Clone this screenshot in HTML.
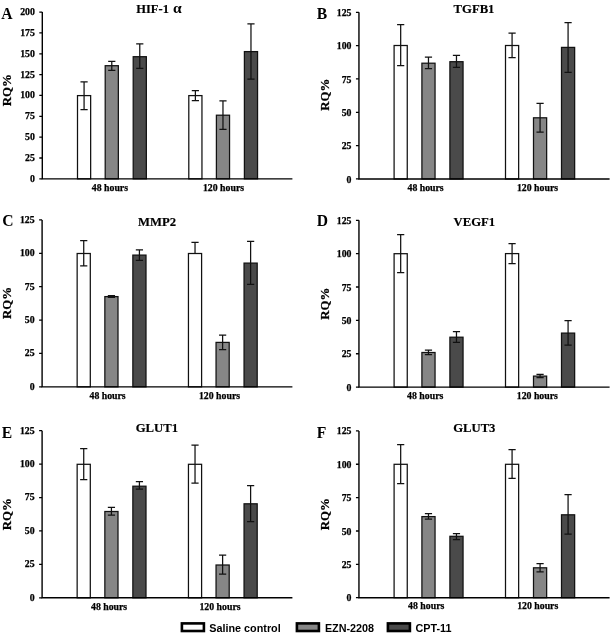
<!DOCTYPE html>
<html><head><meta charset="utf-8"><style>
html,body{margin:0;padding:0;background:#fff;}
body{width:611px;height:635px;overflow:hidden;}
svg{display:block;will-change:transform;}
.t{font-family:"Liberation Serif", serif;font-weight:bold;fill:#000;}
.k{stroke:#000;stroke-width:0.25px;}
.k2{stroke:#000;stroke-width:0.18px;}
.s{font-family:"Liberation Sans", sans-serif;font-weight:bold;fill:#000;}
</style></head><body>
<svg width="611" height="635" viewBox="0 0 611 635">
<rect x="0" y="0" width="611" height="635" fill="#fff"/>
<rect x="77.5" y="95.6" width="13.15" height="83.25" fill="#ffffff" stroke="#111" stroke-width="1.25"/>
<rect x="105.2" y="65.7" width="13.15" height="113.15" fill="#868686" stroke="#111" stroke-width="1.25"/>
<rect x="133.2" y="56.7" width="13.15" height="122.15" fill="#4a4a4a" stroke="#111" stroke-width="1.25"/>
<rect x="188.8" y="95.6" width="13.15" height="83.25" fill="#ffffff" stroke="#111" stroke-width="1.25"/>
<rect x="216.4" y="115.2" width="13.15" height="63.65" fill="#868686" stroke="#111" stroke-width="1.25"/>
<rect x="244.4" y="51.6" width="13.15" height="127.25" fill="#4a4a4a" stroke="#111" stroke-width="1.25"/>
<path d="M84.08 81.8V109.6 M80.48 81.8H87.67 M80.48 109.6H87.67" stroke="#111" stroke-width="1.25" fill="none"/>
<path d="M111.78 61.4V70.4 M108.18 61.4H115.38 M108.18 70.4H115.38" stroke="#111" stroke-width="1.25" fill="none"/>
<path d="M139.77 43.9V68.4 M136.17 43.9H143.37 M136.17 68.4H143.37" stroke="#111" stroke-width="1.25" fill="none"/>
<path d="M195.38 90.5V100.5 M191.78 90.5H198.97 M191.78 100.5H198.97" stroke="#111" stroke-width="1.25" fill="none"/>
<path d="M222.97 100.9V129.3 M219.38 100.9H226.57 M219.38 129.3H226.57" stroke="#111" stroke-width="1.25" fill="none"/>
<path d="M250.97 23.9V79 M247.38 23.9H254.57 M247.38 79H254.57" stroke="#111" stroke-width="1.25" fill="none"/>
<path d="M42.3 12.1V178.85 H292.4" stroke="#000" stroke-width="1.4" fill="none"/>
<path d="M39.3 12.1H42.3M39.3 32.94H42.3M39.3 53.79H42.3M39.3 74.63H42.3M39.3 95.47H42.3M39.3 116.32H42.3M39.3 137.16H42.3M39.3 158.01H42.3M39.3 178.85H42.3" stroke="#000" stroke-width="1.3" fill="none"/>
<text class="t k" x="34.85" y="15" font-size="9.8" text-anchor="end">200</text>
<text class="t k" x="34.85" y="35.84" font-size="9.8" text-anchor="end">175</text>
<text class="t k" x="34.85" y="56.69" font-size="9.8" text-anchor="end">150</text>
<text class="t k" x="34.85" y="77.53" font-size="9.8" text-anchor="end">125</text>
<text class="t k" x="34.85" y="98.38" font-size="9.8" text-anchor="end">100</text>
<text class="t k" x="34.85" y="119.22" font-size="9.8" text-anchor="end">75</text>
<text class="t k" x="34.85" y="140.06" font-size="9.8" text-anchor="end">50</text>
<text class="t k" x="34.85" y="160.91" font-size="9.8" text-anchor="end">25</text>
<text class="t k" x="34.85" y="181.75" font-size="9.8" text-anchor="end">0</text>
<text class="t" transform="translate(1.3 19.2) scale(0.95 1)" x="0" y="0" font-size="16.5">A</text>
<text class="t k2" transform="translate(136.3 12.9) scale(0.94 1)" x="0" y="0" font-size="13.3">HIF-1</text>
<text class="t" transform="translate(173 12.9) scale(1.05 1)" x="0" y="0" font-size="14.8">α</text>
<text class="t k" transform="translate(10.8 90.2) rotate(-90) scale(0.96 1)" x="0" y="0" font-size="13.4" text-anchor="middle">RQ%</text>
<text class="t k" x="109.9" y="191" font-size="9.8" text-anchor="middle">48 hours</text>
<text class="t k" x="223.5" y="191" font-size="9.8" text-anchor="middle">120 hours</text>
<rect x="394.1" y="45.5" width="13.15" height="133.45" fill="#ffffff" stroke="#111" stroke-width="1.25"/>
<rect x="421.9" y="63.2" width="13.15" height="115.75" fill="#868686" stroke="#111" stroke-width="1.25"/>
<rect x="449.9" y="61.7" width="13.15" height="117.25" fill="#4a4a4a" stroke="#111" stroke-width="1.25"/>
<rect x="505.5" y="45.5" width="13.15" height="133.45" fill="#ffffff" stroke="#111" stroke-width="1.25"/>
<rect x="533.5" y="117.8" width="13.15" height="61.15" fill="#868686" stroke="#111" stroke-width="1.25"/>
<rect x="561.5" y="47.4" width="13.15" height="131.55" fill="#4a4a4a" stroke="#111" stroke-width="1.25"/>
<path d="M400.68 24.7V65.7 M397.07 24.7H404.28 M397.07 65.7H404.28" stroke="#111" stroke-width="1.25" fill="none"/>
<path d="M428.47 57.1V68.6 M424.87 57.1H432.07 M424.87 68.6H432.07" stroke="#111" stroke-width="1.25" fill="none"/>
<path d="M456.47 55.4V67.4 M452.87 55.4H460.07 M452.87 67.4H460.07" stroke="#111" stroke-width="1.25" fill="none"/>
<path d="M512.08 33.1V57.6 M508.48 33.1H515.68 M508.48 57.6H515.68" stroke="#111" stroke-width="1.25" fill="none"/>
<path d="M540.08 103.3V132.2 M536.48 103.3H543.68 M536.48 132.2H543.68" stroke="#111" stroke-width="1.25" fill="none"/>
<path d="M568.08 22.5V72.3 M564.48 22.5H571.68 M564.48 72.3H571.68" stroke="#111" stroke-width="1.25" fill="none"/>
<path d="M358.95 12.3V178.95 H609.6" stroke="#000" stroke-width="1.4" fill="none"/>
<path d="M355.95 12.3H358.95M355.95 45.63H358.95M355.95 78.96H358.95M355.95 112.29H358.95M355.95 145.62H358.95M355.95 178.95H358.95" stroke="#000" stroke-width="1.3" fill="none"/>
<text class="t k" x="351.5" y="15.85" font-size="9.8" text-anchor="end">125</text>
<text class="t k" x="351.5" y="49.18" font-size="9.8" text-anchor="end">100</text>
<text class="t k" x="351.5" y="82.51" font-size="9.8" text-anchor="end">75</text>
<text class="t k" x="351.5" y="115.84" font-size="9.8" text-anchor="end">50</text>
<text class="t k" x="351.5" y="149.17" font-size="9.8" text-anchor="end">25</text>
<text class="t k" x="351.5" y="182.5" font-size="9.8" text-anchor="end">0</text>
<text class="t" transform="translate(316.8 19.2) scale(0.95 1)" x="0" y="0" font-size="16.5">B</text>
<text class="t k2" transform="translate(474 13.1) scale(0.955 1)" x="0" y="0" font-size="13.3" text-anchor="middle">TGFB1</text>
<text class="t k" transform="translate(328.8 94.8) rotate(-90) scale(0.96 1)" x="0" y="0" font-size="13.4" text-anchor="middle">RQ%</text>
<text class="t k" x="425.6" y="191" font-size="9.8" text-anchor="middle">48 hours</text>
<text class="t k" x="537.5" y="191" font-size="9.8" text-anchor="middle">120 hours</text>
<rect x="77.15" y="253.5" width="13.15" height="133.35" fill="#ffffff" stroke="#111" stroke-width="1.25"/>
<rect x="104.85" y="296.6" width="13.15" height="90.25" fill="#868686" stroke="#111" stroke-width="1.25"/>
<rect x="132.85" y="255.1" width="13.15" height="131.75" fill="#4a4a4a" stroke="#111" stroke-width="1.25"/>
<rect x="188.45" y="253.5" width="13.15" height="133.35" fill="#ffffff" stroke="#111" stroke-width="1.25"/>
<rect x="216.05" y="342.4" width="13.15" height="44.45" fill="#868686" stroke="#111" stroke-width="1.25"/>
<rect x="244.05" y="263.1" width="13.15" height="123.75" fill="#4a4a4a" stroke="#111" stroke-width="1.25"/>
<path d="M83.73 240.5V265.8 M80.13 240.5H87.33 M80.13 265.8H87.33" stroke="#111" stroke-width="1.25" fill="none"/>
<path d="M111.43 295.6V297.4 M107.83 295.6H115.03 M107.83 297.4H115.03" stroke="#111" stroke-width="1.25" fill="none"/>
<path d="M139.42 249.8V260.4 M135.82 249.8H143.02 M135.82 260.4H143.02" stroke="#111" stroke-width="1.25" fill="none"/>
<path d="M195.03 242.4V253.3 M191.43 242.4H198.62" stroke="#111" stroke-width="1.25" fill="none"/>
<path d="M222.62 335.1V349.5 M219.03 335.1H226.22 M219.03 349.5H226.22" stroke="#111" stroke-width="1.25" fill="none"/>
<path d="M250.62 241.3V284.3 M247.03 241.3H254.22 M247.03 284.3H254.22" stroke="#111" stroke-width="1.25" fill="none"/>
<path d="M42.1 219.9V386.85 H292.4" stroke="#000" stroke-width="1.4" fill="none"/>
<path d="M39.1 219.9H42.1M39.1 253.29H42.1M39.1 286.68H42.1M39.1 320.07H42.1M39.1 353.46H42.1M39.1 386.85H42.1" stroke="#000" stroke-width="1.3" fill="none"/>
<text class="t k" x="34.65" y="222.8" font-size="9.8" text-anchor="end">125</text>
<text class="t k" x="34.65" y="256.19" font-size="9.8" text-anchor="end">100</text>
<text class="t k" x="34.65" y="289.58" font-size="9.8" text-anchor="end">75</text>
<text class="t k" x="34.65" y="322.97" font-size="9.8" text-anchor="end">50</text>
<text class="t k" x="34.65" y="356.36" font-size="9.8" text-anchor="end">25</text>
<text class="t k" x="34.65" y="389.75" font-size="9.8" text-anchor="end">0</text>
<text class="t" transform="translate(2.2 225.8) scale(0.95 1)" x="0" y="0" font-size="16.5">C</text>
<text class="t k2" transform="translate(157.1 225.6) scale(0.955 1)" x="0" y="0" font-size="13.3" text-anchor="middle">MMP2</text>
<text class="t k" transform="translate(11 303) rotate(-90) scale(0.96 1)" x="0" y="0" font-size="13.4" text-anchor="middle">RQ%</text>
<text class="t k" x="107.6" y="398.8" font-size="9.8" text-anchor="middle">48 hours</text>
<text class="t k" x="219.5" y="398.8" font-size="9.8" text-anchor="middle">120 hours</text>
<rect x="394.1" y="253.7" width="13.15" height="133.4" fill="#ffffff" stroke="#111" stroke-width="1.25"/>
<rect x="421.9" y="352.5" width="13.15" height="34.6" fill="#868686" stroke="#111" stroke-width="1.25"/>
<rect x="449.9" y="337.2" width="13.15" height="49.9" fill="#4a4a4a" stroke="#111" stroke-width="1.25"/>
<rect x="505.5" y="253.6" width="13.15" height="133.5" fill="#ffffff" stroke="#111" stroke-width="1.25"/>
<rect x="533.5" y="376.1" width="13.15" height="11" fill="#868686" stroke="#111" stroke-width="1.25"/>
<rect x="561.5" y="333.1" width="13.15" height="54" fill="#4a4a4a" stroke="#111" stroke-width="1.25"/>
<path d="M400.68 234.5V272.5 M397.07 234.5H404.28 M397.07 272.5H404.28" stroke="#111" stroke-width="1.25" fill="none"/>
<path d="M428.47 350V354.6 M424.87 350H432.07 M424.87 354.6H432.07" stroke="#111" stroke-width="1.25" fill="none"/>
<path d="M456.47 331.5V342.3 M452.87 331.5H460.07 M452.87 342.3H460.07" stroke="#111" stroke-width="1.25" fill="none"/>
<path d="M512.08 243.5V263.5 M508.48 243.5H515.68 M508.48 263.5H515.68" stroke="#111" stroke-width="1.25" fill="none"/>
<path d="M540.08 374.4V377.7 M536.48 374.4H543.68 M536.48 377.7H543.68" stroke="#111" stroke-width="1.25" fill="none"/>
<path d="M568.08 320.6V345 M564.48 320.6H571.68 M564.48 345H571.68" stroke="#111" stroke-width="1.25" fill="none"/>
<path d="M358.95 220.3V387.1 H609.6" stroke="#000" stroke-width="1.4" fill="none"/>
<path d="M355.95 220.3H358.95M355.95 253.66H358.95M355.95 287.02H358.95M355.95 320.38H358.95M355.95 353.74H358.95M355.95 387.1H358.95" stroke="#000" stroke-width="1.3" fill="none"/>
<text class="t k" x="351.5" y="223.85" font-size="9.8" text-anchor="end">125</text>
<text class="t k" x="351.5" y="257.21" font-size="9.8" text-anchor="end">100</text>
<text class="t k" x="351.5" y="290.57" font-size="9.8" text-anchor="end">75</text>
<text class="t k" x="351.5" y="323.93" font-size="9.8" text-anchor="end">50</text>
<text class="t k" x="351.5" y="357.29" font-size="9.8" text-anchor="end">25</text>
<text class="t k" x="351.5" y="390.65" font-size="9.8" text-anchor="end">0</text>
<text class="t" transform="translate(316.8 225.8) scale(0.95 1)" x="0" y="0" font-size="16.5">D</text>
<text class="t k2" transform="translate(474.4 226) scale(0.955 1)" x="0" y="0" font-size="13.3" text-anchor="middle">VEGF1</text>
<text class="t k" transform="translate(328.8 303.6) rotate(-90) scale(0.96 1)" x="0" y="0" font-size="13.4" text-anchor="middle">RQ%</text>
<text class="t k" x="425.2" y="399" font-size="9.8" text-anchor="middle">48 hours</text>
<text class="t k" x="537.3" y="399" font-size="9.8" text-anchor="middle">120 hours</text>
<rect x="77.15" y="464.3" width="13.15" height="133.5" fill="#ffffff" stroke="#111" stroke-width="1.25"/>
<rect x="104.85" y="511.5" width="13.15" height="86.3" fill="#868686" stroke="#111" stroke-width="1.25"/>
<rect x="132.85" y="486.2" width="13.15" height="111.6" fill="#4a4a4a" stroke="#111" stroke-width="1.25"/>
<rect x="188.45" y="464.3" width="13.15" height="133.5" fill="#ffffff" stroke="#111" stroke-width="1.25"/>
<rect x="216.05" y="565" width="13.15" height="32.8" fill="#868686" stroke="#111" stroke-width="1.25"/>
<rect x="244.05" y="503.8" width="13.15" height="94" fill="#4a4a4a" stroke="#111" stroke-width="1.25"/>
<path d="M83.73 448.5V479.6 M80.13 448.5H87.33 M80.13 479.6H87.33" stroke="#111" stroke-width="1.25" fill="none"/>
<path d="M111.43 507.4V515.1 M107.83 507.4H115.03 M107.83 515.1H115.03" stroke="#111" stroke-width="1.25" fill="none"/>
<path d="M139.42 481.6V489.2 M135.82 481.6H143.02 M135.82 489.2H143.02" stroke="#111" stroke-width="1.25" fill="none"/>
<path d="M195.03 445.2V483.2 M191.43 445.2H198.62 M191.43 483.2H198.62" stroke="#111" stroke-width="1.25" fill="none"/>
<path d="M222.62 555V574.2 M219.03 555H226.22 M219.03 574.2H226.22" stroke="#111" stroke-width="1.25" fill="none"/>
<path d="M250.62 485.6V521.7 M247.03 485.6H254.22 M247.03 521.7H254.22" stroke="#111" stroke-width="1.25" fill="none"/>
<path d="M42.1 430.7V597.8 H292.4" stroke="#000" stroke-width="1.4" fill="none"/>
<path d="M39.1 430.7H42.1M39.1 464.12H42.1M39.1 497.54H42.1M39.1 530.96H42.1M39.1 564.38H42.1M39.1 597.8H42.1" stroke="#000" stroke-width="1.3" fill="none"/>
<text class="t k" x="34.65" y="433.6" font-size="9.8" text-anchor="end">125</text>
<text class="t k" x="34.65" y="467.02" font-size="9.8" text-anchor="end">100</text>
<text class="t k" x="34.65" y="500.44" font-size="9.8" text-anchor="end">75</text>
<text class="t k" x="34.65" y="533.86" font-size="9.8" text-anchor="end">50</text>
<text class="t k" x="34.65" y="567.28" font-size="9.8" text-anchor="end">25</text>
<text class="t k" x="34.65" y="600.7" font-size="9.8" text-anchor="end">0</text>
<text class="t" transform="translate(1.8 437.9) scale(0.95 1)" x="0" y="0" font-size="16.5">E</text>
<text class="t k2" transform="translate(156.9 431.6) scale(0.955 1)" x="0" y="0" font-size="13.3" text-anchor="middle">GLUT1</text>
<text class="t k" transform="translate(11 514.1) rotate(-90) scale(0.96 1)" x="0" y="0" font-size="13.4" text-anchor="middle">RQ%</text>
<text class="t k" x="109.1" y="609.5" font-size="9.8" text-anchor="middle">48 hours</text>
<text class="t k" x="220" y="609.5" font-size="9.8" text-anchor="middle">120 hours</text>
<rect x="394.1" y="464.3" width="13.15" height="133.4" fill="#ffffff" stroke="#111" stroke-width="1.25"/>
<rect x="421.9" y="516.6" width="13.15" height="81.1" fill="#868686" stroke="#111" stroke-width="1.25"/>
<rect x="449.9" y="536.3" width="13.15" height="61.4" fill="#4a4a4a" stroke="#111" stroke-width="1.25"/>
<rect x="505.5" y="464.3" width="13.15" height="133.4" fill="#ffffff" stroke="#111" stroke-width="1.25"/>
<rect x="533.5" y="567.8" width="13.15" height="29.9" fill="#868686" stroke="#111" stroke-width="1.25"/>
<rect x="561.5" y="514.8" width="13.15" height="82.9" fill="#4a4a4a" stroke="#111" stroke-width="1.25"/>
<path d="M400.68 444.7V483.7 M397.07 444.7H404.28 M397.07 483.7H404.28" stroke="#111" stroke-width="1.25" fill="none"/>
<path d="M428.47 513.5V519.2 M424.87 513.5H432.07 M424.87 519.2H432.07" stroke="#111" stroke-width="1.25" fill="none"/>
<path d="M456.47 533.5V539.5 M452.87 533.5H460.07 M452.87 539.5H460.07" stroke="#111" stroke-width="1.25" fill="none"/>
<path d="M512.08 449.6V478.3 M508.48 449.6H515.68 M508.48 478.3H515.68" stroke="#111" stroke-width="1.25" fill="none"/>
<path d="M540.08 563.6V571.8 M536.48 563.6H543.68 M536.48 571.8H543.68" stroke="#111" stroke-width="1.25" fill="none"/>
<path d="M568.08 494.6V534.2 M564.48 494.6H571.68 M564.48 534.2H571.68" stroke="#111" stroke-width="1.25" fill="none"/>
<path d="M358.95 430.9V597.7 H609.6" stroke="#000" stroke-width="1.4" fill="none"/>
<path d="M355.95 430.9H358.95M355.95 464.26H358.95M355.95 497.62H358.95M355.95 530.98H358.95M355.95 564.34H358.95M355.95 597.7H358.95" stroke="#000" stroke-width="1.3" fill="none"/>
<text class="t k" x="351.5" y="434.45" font-size="9.8" text-anchor="end">125</text>
<text class="t k" x="351.5" y="467.81" font-size="9.8" text-anchor="end">100</text>
<text class="t k" x="351.5" y="501.17" font-size="9.8" text-anchor="end">75</text>
<text class="t k" x="351.5" y="534.53" font-size="9.8" text-anchor="end">50</text>
<text class="t k" x="351.5" y="567.89" font-size="9.8" text-anchor="end">25</text>
<text class="t k" x="351.5" y="601.25" font-size="9.8" text-anchor="end">0</text>
<text class="t" transform="translate(316.8 437.9) scale(0.95 1)" x="0" y="0" font-size="16.5">F</text>
<text class="t k2" transform="translate(474.3 431.7) scale(0.955 1)" x="0" y="0" font-size="13.3" text-anchor="middle">GLUT3</text>
<text class="t k" transform="translate(328.8 514.1) rotate(-90) scale(0.96 1)" x="0" y="0" font-size="13.4" text-anchor="middle">RQ%</text>
<text class="t k" x="426.2" y="609.4" font-size="9.8" text-anchor="middle">48 hours</text>
<text class="t k" x="537.7" y="609.4" font-size="9.8" text-anchor="middle">120 hours</text>
<rect x="181.9" y="623.4" width="22" height="7.6" fill="#ffffff" stroke="#000" stroke-width="2.6"/>
<text class="s" x="209.3" y="631.9" font-size="10.8">Saline control</text>
<rect x="296.9" y="623.4" width="22" height="7.6" fill="#868686" stroke="#000" stroke-width="2.6"/>
<text class="s" x="324.9" y="631.9" font-size="10.8">EZN-2208</text>
<rect x="387.9" y="623.4" width="22" height="7.6" fill="#4a4a4a" stroke="#000" stroke-width="2.6"/>
<text class="s" x="415.5" y="631.9" font-size="10.8">CPT-11</text>
</svg>
</body></html>
